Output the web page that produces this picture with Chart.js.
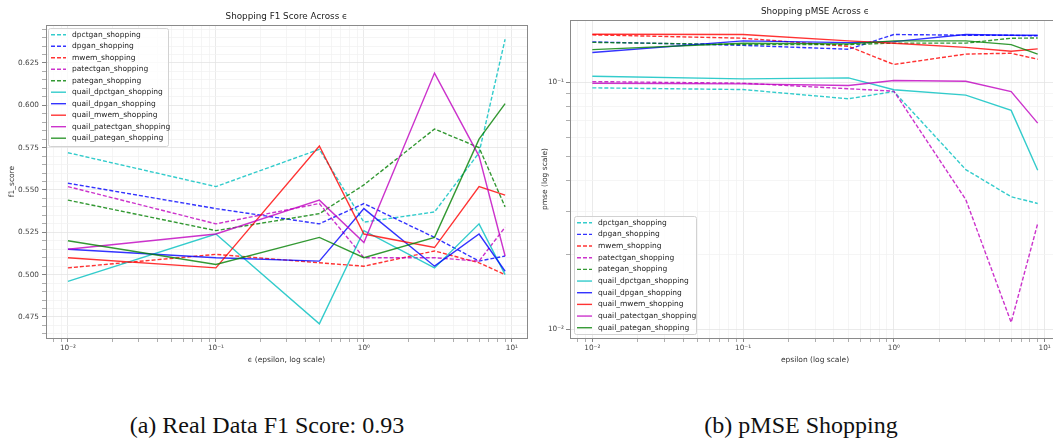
<!DOCTYPE html>
<html lang="en">
<head>
<meta charset="utf-8">
<title>Shopping F1 / pMSE across epsilon</title>
<script src="https://cdn.jsdelivr.net/npm/chart.js"></script>
<style>
  html, body { margin: 0; padding: 0; background: #fff; width: 1053px; height: 439px; overflow: hidden; }
  .panel { position: absolute; top: 0; }
  #left { left: 0; }
  #right { left: 530px; }
  .caption {
    position: absolute; top: 411px; line-height: 28px;
    font-family: "Liberation Serif", "Times New Roman", serif; font-size: 24px; color: #111;
    white-space: nowrap; transform: translateX(-50%);
  }
</style>
</head>
<body>
<div class="panel" id="left"><canvas id="f1Chart" width="530" height="392"></canvas></div>
<div class="panel" id="right"><canvas id="pmseChart" width="540" height="392"></canvas></div>
<div class="caption" style="left:267px">(a) Real Data F1 Score: 0.93</div>
<div class="caption" style="left:801px">(b) pMSE Shopping</div>
<script>
// epsilon values shared by every run
const epsilons = [0.01, 0.1, 0.5, 1, 3, 6, 9];

const methods = [
  'dpctgan_shopping', 'dpgan_shopping', 'mwem_shopping', 'patectgan_shopping', 'pategan_shopping',
  'quail_dpctgan_shopping', 'quail_dpgan_shopping', 'quail_mwem_shopping',
  'quail_patectgan_shopping', 'quail_pategan_shopping'
];

// f1 score per method
const f1Dpctgan        = [0.572, 0.552, 0.574, 0.531, 0.537, 0.572, 0.639];
const f1Dpgan          = [0.554, 0.539, 0.530, 0.542, 0.522, 0.508, 0.511];
const f1Mwem           = [0.504, 0.512, 0.507, 0.505, 0.514, 0.507, 0.500];
const f1Patectgan      = [0.552, 0.530, 0.542, 0.510, 0.510, 0.508, 0.528];
const f1Pategan        = [0.544, 0.526, 0.536, 0.553, 0.586, 0.575, 0.540];
const f1QuailDpctgan   = [0.496, 0.524, 0.471, 0.526, 0.504, 0.530, 0.500];
const f1QuailDpgan     = [0.515, 0.510, 0.508, 0.539, 0.505, 0.524, 0.502];
const f1QuailMwem      = [0.510, 0.504, 0.576, 0.524, 0.516, 0.552, 0.547];
const f1QuailPatectgan = [0.515, 0.524, 0.544, 0.519, 0.619, 0.570, 0.511];
const f1QuailPategan   = [0.520, 0.506, 0.522, 0.510, 0.522, 0.580, 0.601];

// pmse per method
const pmseDpctgan        = [0.0949, 0.0934, 0.0857, 0.0917, 0.0443, 0.0344, 0.0323];
const pmseDpgan          = [0.1456, 0.1410, 0.1360, 0.1560, 0.1550, 0.1550, 0.1540];
const pmseMwem           = [0.1555, 0.1507, 0.1397, 0.1180, 0.1300, 0.1310, 0.1239];
const pmsePatectgan      = [0.1006, 0.0991, 0.0941, 0.0920, 0.0335, 0.01067, 0.0268];
const pmsePategan        = [0.1450, 0.1420, 0.1420, 0.1440, 0.1440, 0.1507, 0.1510];
const pmseQuailDpctgan   = [0.1057, 0.1032, 0.1041, 0.0932, 0.0887, 0.0769, 0.0440];
const pmseQuailDpgan     = [0.1320, 0.1470, 0.1446, 0.1460, 0.1560, 0.1550, 0.1550];
const pmseQuailMwem      = [0.1563, 0.1560, 0.1470, 0.1438, 0.1384, 0.1334, 0.1364];
const pmseQuailPatectgan = [0.0991, 0.0985, 0.0970, 0.1016, 0.1009, 0.0917, 0.0683];
const pmseQuailPategan   = [0.1355, 0.1438, 0.1430, 0.1470, 0.1470, 0.1420, 0.1300];

const f1Series = [f1Dpctgan, f1Dpgan, f1Mwem, f1Patectgan, f1Pategan,
  f1QuailDpctgan, f1QuailDpgan, f1QuailMwem, f1QuailPatectgan, f1QuailPategan];
const pmseSeries = [pmseDpctgan, pmseDpgan, pmseMwem, pmsePatectgan, pmsePategan,
  pmseQuailDpctgan, pmseQuailDpgan, pmseQuailMwem, pmseQuailPatectgan, pmseQuailPategan];

// c, b, r, m, g at alpha 0.8
const baseColors = ['rgba(0,191,191,0.8)', 'rgba(0,0,255,0.8)', 'rgba(255,0,0,0.8)',
  'rgba(191,0,191,0.8)', 'rgba(0,128,0,0.8)'];

Chart.defaults.font.family = '"DejaVu Sans", sans-serif';
Chart.defaults.color = '#333';

function makeDatasets(series) {
  return series.map((vals, i) => ({
    label: methods[i],
    data: epsilons.map((e, j) => ({ x: e, y: vals[j] })),
    borderColor: baseColors[i % 5],
    borderWidth: 1.4,
    borderDash: i < 5 ? [4, 2] : [],
    pointRadius: 0,
    tension: 0,
    fill: false,
    order: series.length - i
  }));
}

const sup = { '-': '\u207B', '0': '\u2070', '1': '\u00B9', '2': '\u00B2', '3': '\u00B3' };
function isPow10(v) {
  const l = Math.log10(v);
  return Math.abs(l - Math.round(l)) < 1e-9;
}
function pow10Label(v) {
  const k = Math.round(Math.log10(v));
  return '10' + String(k).split('').map(c => sup[c]).join('');
}
function logTicks(min, max) {
  const out = [];
  for (let k = -4; k <= 2; k++) {
    for (let m = 1; m <= 9; m++) {
      const v = m * Math.pow(10, k);
      if (v >= min && v <= max) out.push({ value: v, major: m === 1 });
    }
  }
  return out;
}
function linTicks(min, max, step, majorEvery) {
  const out = [];
  for (let n = Math.ceil(min / step); n * step <= max; n++) {
    out.push({ value: +(n * step).toFixed(4), major: n % majorEvery === 0 });
  }
  return out;
}

const gridStyle = {
  color: ctx => (ctx.tick && ctx.tick.major ? '#e4e4e4' : '#f3f3f3'),
  lineWidth: 0.8,
  tickColor: '#777',
  tickWidth: ctx => (ctx.tick && ctx.tick.major ? 0.9 : 0.6),
  tickLength: 4
};
const tickFont = { size: 7.3 };

// axes frame on all four sides
const frame = {
  id: 'frame',
  afterDatasetsDraw(chart) {
    const { ctx, chartArea: a } = chart;
    ctx.save();
    ctx.strokeStyle = '#8a8a8a';
    ctx.lineWidth = 1;
    ctx.strokeRect(a.left + 0.5, a.top + 0.5, a.right - a.left, a.bottom - a.top);
    ctx.restore();
  }
};

// title centred over the plot area rather than the canvas
const axesTitle = {
  id: 'axesTitle',
  afterDraw(chart, args, opts) {
    const { ctx, chartArea: a } = chart;
    ctx.save();
    ctx.font = '8.8px "DejaVu Sans", sans-serif';
    ctx.fillStyle = '#222';
    ctx.textAlign = 'center';
    ctx.textBaseline = 'middle';
    ctx.fillText(opts.text, (a.left + a.right) / 2, opts.y);
    ctx.restore();
  }
};

// legend box placed inside the plot
const boxLegend = {
  id: 'boxLegend',
  afterDraw(chart, args, opts) {
    const { ctx } = chart;
    const { left, top, width, height, rowH } = opts;
    ctx.save();
    ctx.beginPath();
    ctx.roundRect(left + 0.5, top + 0.5, width, height, 2);
    ctx.fillStyle = 'rgba(255,255,255,0.8)';
    ctx.fill();
    ctx.strokeStyle = '#d2d2d2';
    ctx.lineWidth = 1;
    ctx.stroke();
    ctx.font = '7.5px "DejaVu Sans", sans-serif';
    ctx.textBaseline = 'middle';
    chart.data.datasets.forEach((ds, i) => {
      const y = top + 6.7 + i * rowH;
      ctx.beginPath();
      ctx.setLineDash(ds.borderDash);
      ctx.strokeStyle = ds.borderColor;
      ctx.lineWidth = 1.4;
      ctx.moveTo(left + 3, y);
      ctx.lineTo(left + 18, y);
      ctx.stroke();
      ctx.setLineDash([]);
      ctx.fillStyle = '#222';
      ctx.fillText(ds.label, left + 24, y);
    });
    ctx.restore();
  }
};

const xMin = 0.00711, xMax = 12.65;

new Chart(document.getElementById('f1Chart'), {
  type: 'line',
  data: { datasets: makeDatasets(f1Series) },
  plugins: [frame, axesTitle, boxLegend],
  options: {
    responsive: false,
    animation: false,
    devicePixelRatio: 1,
    layout: { padding: { left: 0, right: 3, top: 25, bottom: 0 } },
    plugins: {
      legend: { display: false },
      tooltip: { enabled: false },
      title: { display: false },
      axesTitle: { text: 'Shopping F1 Score Across \u03F5', y: 17 },
      boxLegend: { left: 48, top: 28, width: 120, height: 118, rowH: 11.5 }
    },
    scales: {
      x: {
        type: 'logarithmic', min: xMin, max: xMax, bounds: 'data',
        afterBuildTicks: s => { s.ticks = logTicks(xMin, xMax); },
        afterFit: s => { s.height = 54; },
        ticks: { autoSkip: false, maxRotation: 0, padding: 2, font: tickFont, color: '#444',
          callback: v => (isPow10(v) ? pow10Label(v) : '') },
        grid: gridStyle,
        border: { color: '#8a8a8a', width: 1 },
        title: { display: true, text: '\u03F5 (epsilon, log scale)', font: { size: 7.5 }, color: '#333',
          padding: { top: 0, bottom: 27 } }
      },
      y: {
        type: 'linear', min: 0.4626, max: 0.6474, bounds: 'data',
        afterBuildTicks: s => { s.ticks = linTicks(0.4626, 0.6474, 0.005, 5); },
        afterFit: s => { s.width = 46; },
        ticks: { autoSkip: false, padding: 3, font: tickFont, color: '#444',
          callback: v => (Math.round(v * 1000) % 25 === 0 ? v.toFixed(3) : '') },
        grid: gridStyle,
        border: { color: '#8a8a8a', width: 1 },
        title: { display: true, text: 'f1_score', font: { size: 7.5 }, color: '#333',
          padding: { top: 7.2, bottom: 0 } }
      }
    }
  }
});

const pMin = 0.00922, pMax = 0.1786;

new Chart(document.getElementById('pmseChart'), {
  type: 'line',
  data: { datasets: makeDatasets(pmseSeries) },
  plugins: [frame, axesTitle, boxLegend],
  options: {
    responsive: false,
    animation: false,
    devicePixelRatio: 1,
    layout: { padding: { left: 0, right: 10, top: 20, bottom: 0 } },
    plugins: {
      legend: { display: false },
      tooltip: { enabled: false },
      title: { display: false },
      axesTitle: { text: 'Shopping pMSE Across \u03F5', y: 12 },
      boxLegend: { left: 44, top: 216, width: 122, height: 118, rowH: 11.67 }
    },
    scales: {
      x: {
        type: 'logarithmic', min: xMin, max: xMax, bounds: 'data',
        afterBuildTicks: s => { s.ticks = logTicks(xMin, xMax); },
        afterFit: s => { s.height = 54; },
        ticks: { autoSkip: false, maxRotation: 0, padding: 2, font: tickFont, color: '#444',
          callback: v => (isPow10(v) ? pow10Label(v) : '') },
        grid: gridStyle,
        border: { color: '#8a8a8a', width: 1 },
        title: { display: true, text: 'epsilon (log scale)', font: { size: 7.5 }, color: '#333',
          padding: { top: 0, bottom: 27 } }
      },
      y: {
        type: 'logarithmic', min: pMin, max: pMax, bounds: 'data',
        afterBuildTicks: s => { s.ticks = logTicks(pMin, pMax); },
        afterFit: s => { s.width = 40; },
        ticks: { autoSkip: false, padding: 2, font: tickFont, color: '#444',
          callback: v => (isPow10(v) ? pow10Label(v) : '') },
        grid: gridStyle,
        border: { color: '#8a8a8a', width: 1 },
        title: { display: true, text: 'pmse (log scale)', font: { size: 7.5 }, color: '#333',
          padding: { top: 10.2, bottom: 0 } }
      }
    }
  }
});
</script>
</body>
</html>
